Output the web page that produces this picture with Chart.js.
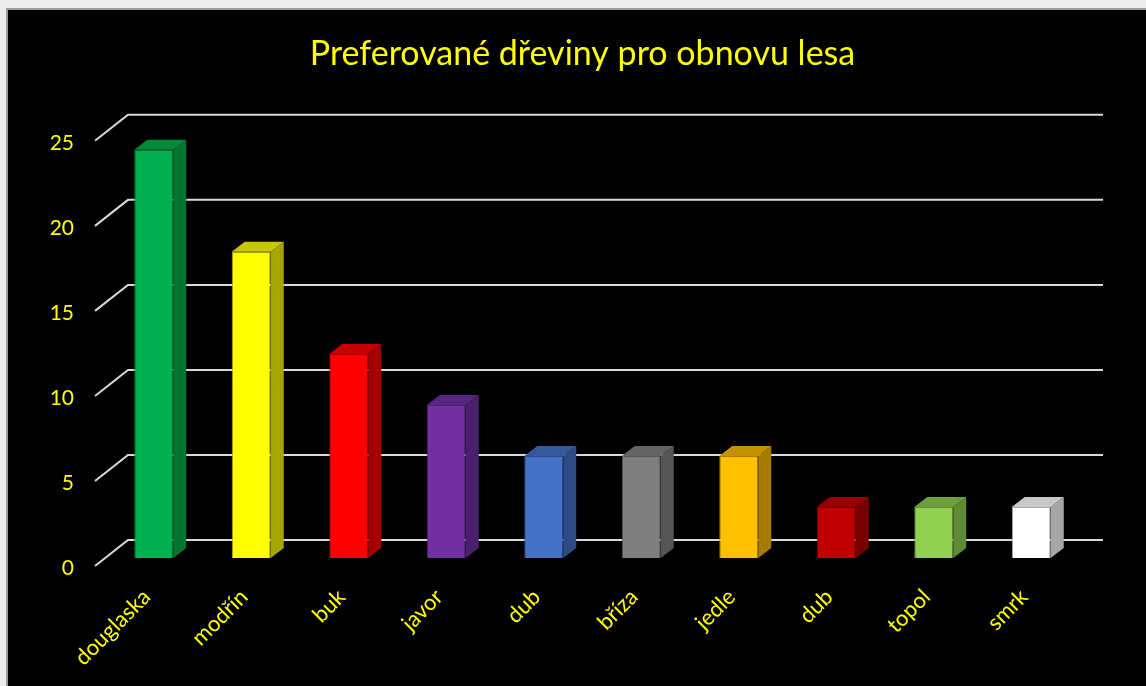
<!DOCTYPE html>
<html lang="cs">
<head>
    <meta charset="UTF-8">
    <title>Preferované dřeviny pro obnovu lesa</title>
    <script src="https://cdn.jsdelivr.net/npm/chart.js"></script>
    <style>
        html, body { margin: 0; padding: 0; background: #ececec; overflow: hidden; }
        .ramecek {
            position: absolute; left: 6px; top: 8px; right: 0; bottom: 0;
            background: #000; border-top: 2px solid #9a9a9a; border-left: 2px solid #9a9a9a;
        }
        #graf { position: absolute; left: 0; top: 0; }
    </style>
</head>
<body>
    <div class="ramecek"></div>
    <canvas id="graf" width="1146" height="686"></canvas>

    <script>
        // data
        const dreviny = ['douglaska', 'modřín', 'buk', 'javor', 'dub', 'bříza', 'jedle', 'dub', 'topol', 'smrk'];
        const pocty = [24, 18, 12, 9, 6, 6, 6, 3, 3, 3];
        const osaY = [0, 5, 10, 15, 20, 25];

        // barvy: predni stena, bok, vrch
        const barvyPredni = ['#00b050', '#ffff00', '#ff0000', '#7030a0', '#4472c4', '#7f7f7f', '#ffc000', '#c00000', '#92d050', '#ffffff'];
        const barvyBok = ['#007530', '#a6a600', '#a30000', '#4a1f6b', '#2d4c85', '#555555', '#a67c00', '#7a0000', '#5f8b34', '#a6a6a6'];
        const barvyVrch = ['#008a3a', '#c8c800', '#c40000', '#582680', '#35599c', '#636363', '#c49200', '#960000', '#6e9f3d', '#c8c8c8'];

        const zluta = '#ffff00';
        const hloubkaBar = { dx: 13, dy: 10 };     // vrch / bok sloupce
        const zadniStena = { dx: 23, dy: 18 };     // posun mrizky dozadu
        const predniHrana = { dx: 10, dy: 8 };     // posun k predni hrane

        const prostor3d = {
            id: 'prostor3d',
            beforeDatasetsDraw(chart) {
                const ctx = chart.ctx;
                const y = chart.scales.y;
                const a = chart.chartArea;
                ctx.save();
                ctx.strokeStyle = '#d9d9d9';
                ctx.lineWidth = 2;
                y.ticks.forEach(t => {
                    const py = y.getPixelForValue(t.value);
                    ctx.beginPath();
                    ctx.moveTo(a.left - predniHrana.dx, py + predniHrana.dy);
                    ctx.lineTo(a.left + zadniStena.dx, py - zadniStena.dy);
                    ctx.lineTo(a.right + zadniStena.dx, py - zadniStena.dy);
                    ctx.stroke();
                });
                ctx.restore();
            },
            afterDatasetsDraw(chart) {
                const ctx = chart.ctx;
                const meta = chart.getDatasetMeta(0);
                ctx.save();
                meta.data.forEach((bar, i) => {
                    const p = bar.getProps(['x', 'y', 'base', 'width'], true);
                    const l = p.x - p.width / 2, r = p.x + p.width / 2;
                    // bok
                    ctx.fillStyle = barvyBok[i];
                    ctx.beginPath();
                    ctx.moveTo(r, p.base);
                    ctx.lineTo(r + hloubkaBar.dx, p.base - hloubkaBar.dy);
                    ctx.lineTo(r + hloubkaBar.dx, p.y - hloubkaBar.dy);
                    ctx.lineTo(r, p.y);
                    ctx.closePath();
                    ctx.fill();
                    // vrch
                    ctx.fillStyle = barvyVrch[i];
                    ctx.beginPath();
                    ctx.moveTo(l, p.y);
                    ctx.lineTo(l + hloubkaBar.dx, p.y - hloubkaBar.dy);
                    ctx.lineTo(r + hloubkaBar.dx, p.y - hloubkaBar.dy);
                    ctx.lineTo(r, p.y);
                    ctx.closePath();
                    ctx.fill();
                });
                ctx.restore();
            }
        };

        new Chart(document.getElementById('graf'), {
            type: 'bar',
            data: {
                labels: dreviny,
                datasets: [{
                    data: pocty,
                    backgroundColor: barvyPredni,
                    borderColor: barvyBok,
                    borderWidth: 1,
                    categoryPercentage: 1,
                    barPercentage: 0.4
                }]
            },
            options: {
                responsive: false,
                animation: false,
                events: [],
                layout: { padding: { left: 19, right: 0, top: 0, bottom: 0 } },
                plugins: {
                    legend: { display: false },
                    tooltip: { enabled: false },
                    title: {
                        display: true,
                        text: 'Preferované dřeviny pro obnovu lesa',
                        color: zluta,
                        font: { family: 'Lato', size: 34, weight: 'normal' },
                        padding: { top: 34, bottom: 58 }
                    }
                },
                scales: {
                    y: {
                        min: 0,
                        max: 25,
                        afterBuildTicks: s => { s.ticks = osaY.map(v => ({ value: v })); },
                        afterFit: s => { s.width = 86; },
                        grid: { display: false },
                        border: { display: false },
                        ticks: {
                            color: zluta,
                            font: { family: 'Lato', size: 21 },
                            padding: 23,
                            labelOffset: 10
                        }
                    },
                    // prazdna osa vpravo - jen kvuli okraji
                    okraj: {
                        type: 'linear',
                        position: 'right',
                        afterFit: s => { s.width = 66; },
                        grid: { display: false },
                        border: { display: false },
                        ticks: { display: false }
                    },
                    x: {
                        afterFit: s => { s.height = 128; },
                        grid: { display: false },
                        border: { display: false },
                        ticks: {
                            color: zluta,
                            font: { family: 'Lato', size: 22 },
                            minRotation: 45,
                            maxRotation: 45,
                            autoSkip: false,
                            padding: 18,
                            labelOffset: -7
                        }
                    }
                }
            },
            plugins: [prostor3d]
        });
    </script>
</body>
</html>
